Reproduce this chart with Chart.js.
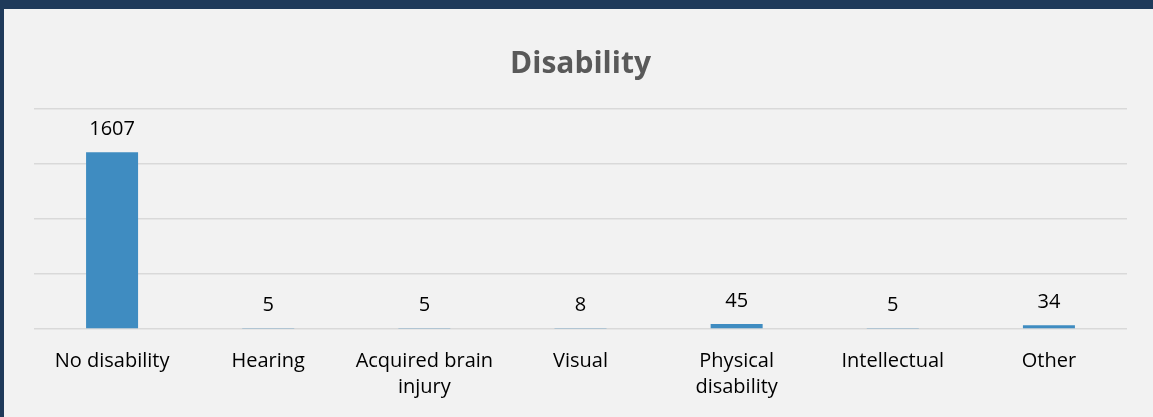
<!DOCTYPE html>
<html>
<head>
<meta charset="utf-8">
<script src="https://cdn.jsdelivr.net/npm/chart.js@4/dist/chart.umd.min.js"></script>
<style>
  html, body { margin: 0; padding: 0; background: #f2f2f2; }
  #frame {
    width: 1149px; height: 408px;
    border-top: 9px solid #1f3a5a;
    border-left: 4px solid #1f3a5a;
    background: #f2f2f2;
  }
</style>
</head>
<body>
<div id="frame"><canvas id="graph" width="1149" height="408"></canvas></div>
<script>
var categories = ['No disability', 'Hearing', ['Acquired brain', 'injury'], 'Visual', ['Physical', 'disability'], 'Intellectual', 'Other'];
var counts = [1607, 5, 5, 8, 45, 5, 34];
var yMax = 2000;
var yStep = 500;

// draws the count above each bar
var valueLabels = {
    id: 'valueLabels',
    afterDatasetsDraw: function (chart) {
        var c = chart.ctx;
        var meta = chart.getDatasetMeta(0);
        c.save();
        c.font = '20px "Open Sans"';
        c.fillStyle = '#000000';
        c.textAlign = 'center';
        c.textBaseline = 'alphabetic';
        meta.data.forEach(function (bar, i) {
            c.fillText(String(counts[i]), bar.x, bar.y - 17);
        });
        c.restore();
    }
};

var ctx = document.getElementById('graph');
var graph = new Chart(ctx, {
    type: 'bar',
    data: {
        labels: categories,
        datasets: [{
            label: 'Disability',
            data: counts,
            backgroundColor: '#3f8cc1',
            borderWidth: 0,
            barPercentage: 0.333,
            categoryPercentage: 1.0
        }]
    },
    plugins: [valueLabels],
    options: {
        responsive: false,
        animation: false,
        layout: { padding: { left: 30, right: 26, top: 0, bottom: 17 } },
        plugins: {
            legend: { display: false },
            tooltip: { enabled: false },
            title: {
                display: true,
                text: 'Disability',
                color: '#595959',
                font: { family: '"Open Sans"', size: 30, weight: 'bold', lineHeight: 1.2 },
                padding: { top: 37, bottom: 27 }
            }
        },
        scales: {
            x: {
                grid: { display: false, drawTicks: false },
                border: { display: false },
                afterFit: function (scale) { scale.height = 71; },
                ticks: {
                    color: '#000000',
                    font: { family: '"Open Sans"', size: 20, lineHeight: 1.3 },
                    padding: 19,
                    maxRotation: 0,
                    autoSkip: false
                }
            },
            y: {
                min: 0,
                max: yMax,
                ticks: { display: false, stepSize: yStep },
                grid: { color: '#d9d9d9', lineWidth: 1.5, drawTicks: false },
                border: { display: false }
            }
        }
    }
});
</script>
</body>
</html>
